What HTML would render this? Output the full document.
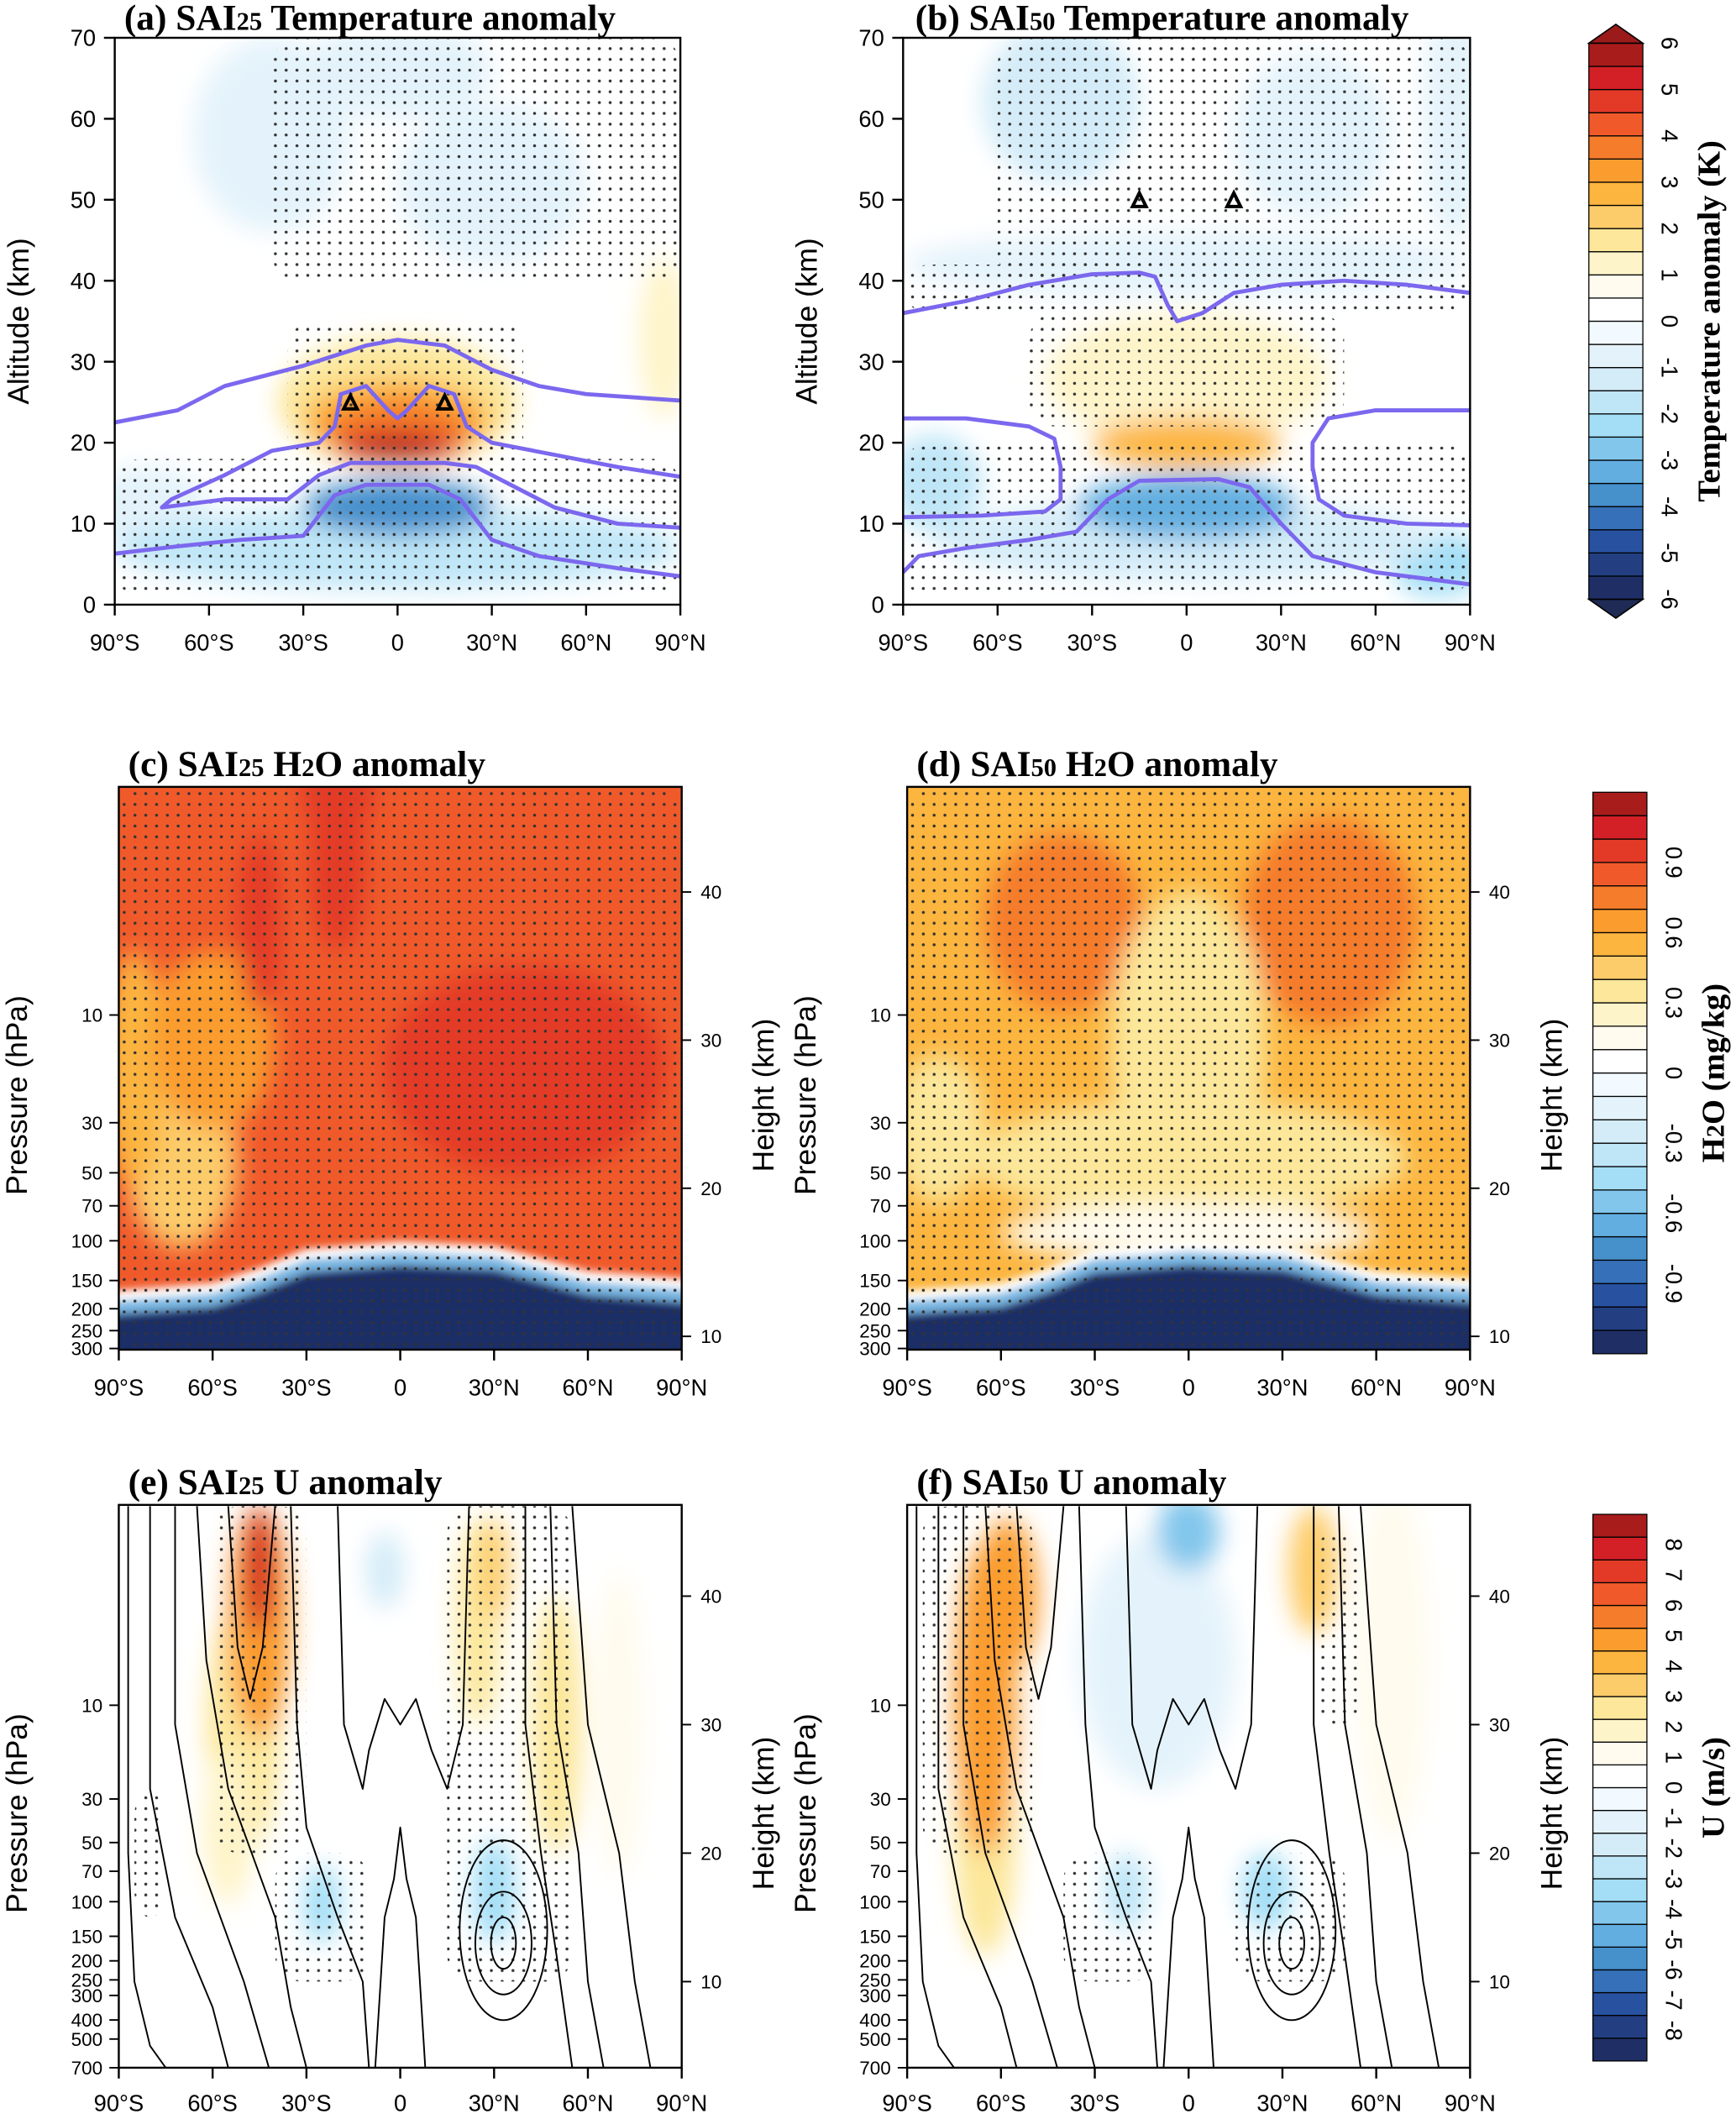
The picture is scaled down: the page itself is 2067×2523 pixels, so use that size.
<!DOCTYPE html>
<html><head><meta charset="utf-8"><style>
html,body{margin:0;padding:0;background:#fff}
svg{display:block}
text{font-family:"Liberation Sans",sans-serif;fill:#000}
.ttl{font-family:"Liberation Serif",serif;font-weight:bold;font-size:27px}
.tk{font-size:17px}
.at{font-size:22px}
</style></head><body>
<svg id="fig" xmlns="http://www.w3.org/2000/svg" width="2067" height="2523" viewBox="0 0 1286 1570" preserveAspectRatio="none">
<defs>
<pattern id="dots" width="8" height="8" patternUnits="userSpaceOnUse"><circle cx="4" cy="4" r="1.1" fill="#333"/></pattern>
<filter id="bl" x="-50%" y="-50%" width="200%" height="200%"><feGaussianBlur stdDeviation="9"/></filter>
<filter id="bl2" x="-50%" y="-50%" width="200%" height="200%"><feGaussianBlur stdDeviation="3"/></filter>
</defs>
</svg>
<script>
// ---- palette (24 classes, bottom to top) ----
const palette=["#1f2f66","#233f82","#2852a0","#3570b8","#4690cc","#62aee0","#82c6ec","#a3def6","#bfe6f7","#d4ecf8","#e4f3fb","#f3faff","#ffffff","#fffbee","#fef4c9","#fce79a","#fdcc6a","#fcb53f","#fb9c2e","#f57c2b","#f05a2b","#e33a28","#d32027","#a91c1c"];
function colorOf(v,max){let i=Math.floor((v+max)/(2*max)*24);i=Math.max(0,Math.min(23,i));return palette[i];}

// ---- data: panel (a) temperature anomaly blobs [lat, alt, rLat, rAlt, K] ----
const aBlobs=[[-40,58,25,12,-0.8],[0,66,30,6,-0.7],[30,52,30,10,-0.8],[85,33,8,10,1.2],[-80,12,20,5,-1],[0,7,90,5,-1.6],
 [0,25,38,8,1.5],[0,23,30,5,2.6],[0,21.5,24,4,3.7],[0,19.5,20,2,5.2],[0,19,12,1.2,5.8],[0,12,30,3.5,-3.8]];
const aStip=[[-40,90,40,70],[-35,40,17,35],[-90,90,1,18]];
const aLines=[
 [[-90,22.5],[-70,24],[-55,27],[-30,29.5],[-10,32],[0,32.7],[15,32],[30,29],[45,27],[60,26],[90,25.2]],
 [[90,9.5],[70,10],[50,12],[35,15],[25,17],[15,17.5],[-15,17.5],[-25,16],[-35,13],[-55,13],[-75,12],[-72,13],[-55,16],[-40,19],[-25,20],[-20,22],[-18,26],[-10,27],[-3,24],[0,23],[3,24],[10,27],[18,26],[22,22],[30,20],[50,18.5],[70,17],[90,15.8]],
 [[-90,6.3],[-70,7.2],[-50,8],[-30,8.5],[-27,10],[-20,13.5],[-10,14.8],[10,14.8],[20,13],[30,8],[45,6],[70,4.5],[90,3.5]]];
const aTri=[[-15,25],[15,25]];
// ---- panel (b) ----
const bBlobs=[[-40,62,25,10,-1.3],[40,58,25,10,-1],[0,42,90,4,-1],[85,60,10,15,-0.6],[-80,15,15,6,-1.6],[80,5,15,4,-2.2],[0,8,80,5,-1.5],
 [0,28,45,8,1.3],[0,20,30,3,2.7],[0,12,35,4,-3.2]];
const bStip=[[-60,90,40,70],[-90,90,36,42],[-50,50,22,36],[-90,90,1,20]];
const bLines=[
 [[-90,36],[-70,37.5],[-50,39.5],[-30,40.8],[-15,41],[-10,40.5],[-6,37],[-3,35],[5,36],[15,38.5],[30,39.5],[50,40],[70,39.5],[90,38.5]],
 [[-90,23],[-70,23],[-50,22],[-42,20.5],[-40,17],[-40,13],[-45,11.5],[-65,11],[-90,10.8]],
 [[90,24],[60,24],[45,23],[40,20],[40,17],[42,13],[50,11],[70,10],[90,9.8]],
 [[-90,4],[-85,6],[-70,7],[-50,8],[-35,9],[-25,13],[-15,15.3],[10,15.5],[20,14.5],[30,10],[40,6],[60,4],[90,2.5]]];
const bTri=[[-15,50],[15,50]];
// ---- panel (c),(d) H2O anomaly ----
const cBack=0.72;
const cBlobs=[[-70,22,18,6,0.35],[-85,28,10,8,0.45],[-60,30,20,6,0.6],[40,28,45,7,0.82],[-45,38,7,6,0.85],[-20,42,9,6,0.85],[-20,47,12,3,0.85]];
const dBack=0.52;
const dBlobs=[[-40,38,25,6,0.62],[45,38,28,7,0.62],[0,30,25,10,0.32],[0,22,70,4,0.3],[-80,24,15,5,0.3],[0,17,60,2,0.15]];
const tropLat=[-90,-60,-45,-30,0,30,60,90];
const tropZ=[11.5,12,13,14.3,14.8,14.5,12.8,12.3];
// ---- panel (e),(f) U anomaly ----
const eBlobs=[[-50,30,12,10,2.5],[-55,22,8,6,1.5],[-45,38,10,9,4.5],[-45,42,5,5,7],[-5,42,6,3,-2],[-25,16,6,3,-3],[30,17,7,4,-3],[25,38,7,8,2],[50,30,8,10,2.2],[70,30,8,12,1.3],[30,42,5,4,3.2]];
const fBlobs=[[-65,22,10,10,2],[-65,32,10,12,4.5],[-58,40,10,6,4],[-10,35,25,10,-1.3],[0,45,10,3,-4],[25,17,8,3,-3],[-20,17,7,3,-2.2],[40,42,8,5,3],[65,35,12,14,1.2]];
const eStip=[[-60,-30,20,47],[-40,-10,10,20],[15,55,10,47],[-85,-75,15,25]];
const fStip=[[-85,-50,20,47],[-40,-10,10,20],[15,50,10,20],[40,55,30,45]];
const uLines=[
 [[-87,47],[-87,20],[-85,10],[-80,5],[-75,3.3]],
 [[-80,47],[-80,25],[-72,15],[-60,8],[-55,3.3]],
 [[-72,47],[-72,30],[-65,20],[-50,10],[-42,3.3]],
 [[-65,47],[-62,35],[-55,25],[-40,15],[-35,8],[-30,3.3]],
 [[-55,47],[-52,36],[-48,32],[-44,36],[-40,47]],
 [[-35,47],[-33,30],[-30,22],[-20,15],[-12,10],[-10,3.3]],
 [[-20,47],[-18,30],[-12,25],[-10,28],[-5,32],[0,30],[5,32],[10,28],[15,25],[20,30],[22,47]],
 [[-8,3.3],[-5,15],[-2,18],[0,22],[2,18],[5,15],[8,3.3]],
 [[40,47],[40,30],[45,20],[50,12],[55,3.3]],
 [[48,47],[50,30],[57,20],[60,10],[65,3.3]],
 [[55,47],[60,30],[70,20],[75,10],[80,3.3]]];
const uRings=[[33,13,4,2],[33,13,9,4],[33,14,14,7]];
// ---- tick labels ----
const latTicks=[-90,-60,-30,0,30,60,90];
const latLabels=["90°S","60°S","30°S","0","30°N","60°N","90°N"];
const altTicks=[0,10,20,30,40,50,60,70];
const presTicksC=[10,30,50,70,100,150,200,250,300];
const presTicksE=[10,30,50,70,100,150,200,250,300,400,500,700];
const hTicks=[10,20,30,40];
const cbT=["6","5","4","3","2","1","0","-1","-2","-3","-4","-5","-6"];
const cbH=["0.9","0.6","0.3","0","-0.3","-0.6","-0.9"];
const cbU=["8","7","6","5","4","3","2","1","0","-1","-2","-3","-4","-5","-6","-7","-8"];

const NS="http://www.w3.org/2000/svg";
const svg=document.getElementById('fig');
function mk(tag,attrs,parent){const e=document.createElementNS(NS,tag);for(const k in attrs)e.setAttribute(k,attrs[k]);(parent||svg).appendChild(e);return e;}
let clipN=0;
function panel(P){
 const g=mk('g',{});
 
 
 const xs=lat=>P.x0+(lat+90)/180*(P.x1-P.x0);
 const ys=z=>P.y1-(z-P.zmin)/(P.zmax-P.zmin)*(P.y1-P.y0);
 const id='cp'+(clipN++);
 const cp=mk('clipPath',{id:id},g);mk('rect',{x:P.x0,y:P.y0,width:P.x1-P.x0,height:P.y1-P.y0},cp);
 const inner=mk('g',{'clip-path':'url(#'+id+')'},g);
 mk('rect',{x:P.x0,y:P.y0,width:P.x1-P.x0,height:P.y1-P.y0,fill:P.back!==undefined?colorOf(P.back,P.max):'#fff'},inner);
 const fg=mk('g',{filter:'url(#bl)'},inner);
 P.blobs.forEach(b=>{
  const el=mk('ellipse',{cx:xs(b[0]),cy:ys(b[1]),rx:b[2]/180*(P.x1-P.x0),ry:b[3]/(P.zmax-P.zmin)*(P.y1-P.y0),fill:colorOf(b[4],P.max)},fg);
  
  
 });
 if(P.trop){
  const g2=mk('g',{filter:'url(#bl2)'},inner);
  let pts=tropLat.map((l,i)=>xs(l)+','+ys(tropZ[i]+1.6)).join(' ');
  mk('polygon',{points:(P.x0-20)+','+(P.y1+20)+' '+(P.x0-20)+','+ys(tropZ[0]+1.6)+' '+pts+' '+(P.x1+20)+','+ys(tropZ[7]+1.6)+' '+(P.x1+20)+','+(P.y1+20),fill:'#ffffff'},g2);
  pts=tropLat.map((l,i)=>xs(l)+','+ys(tropZ[i]+0.9)).join(' ');
  mk('polygon',{points:(P.x0-20)+','+(P.y1+20)+' '+(P.x0-20)+','+ys(tropZ[0]+0.9)+' '+pts+' '+(P.x1+20)+','+ys(tropZ[7]+0.9)+' '+(P.x1+20)+','+(P.y1+20),fill:'#7ab8e3'},g2);
  pts=tropLat.map((l,i)=>xs(l)+','+ys(tropZ[i])).join(' ');
  const nv=mk('polygon',{points:(P.x0-20)+','+(P.y1+20)+' '+(P.x0-20)+','+ys(tropZ[0])+' '+pts+' '+(P.x1+20)+','+ys(tropZ[7])+' '+(P.x1+20)+','+(P.y1+20),fill:'#1f2f66'},g2);
  
  
 }
 (P.stip||[]).forEach(s=>{
  const el=mk('rect',{x:xs(s[0]),y:ys(s[3]),width:xs(s[1])-xs(s[0]),height:ys(s[2])-ys(s[3]),rx:20,fill:'url(#dots)'},inner);
  
  
 });
 (P.lines||[]).forEach(L=>{
  const el=mk('polyline',{points:L.map(p=>xs(p[0])+','+ys(p[1])).join(' '),fill:'none',stroke:P.lc,'stroke-width':P.lw,'stroke-linejoin':'round'},inner);
  
  
 });
 (P.rings||[]).forEach(r=>{
  const el=mk('ellipse',{cx:xs(r[0]),cy:ys(r[1]),rx:r[2]/180*(P.x1-P.x0),ry:r[3]/(P.zmax-P.zmin)*(P.y1-P.y0),fill:'none',stroke:P.lc,'stroke-width':P.lw},inner);
  
  
 });
 (P.tri||[]).forEach(t=>{
  const x=xs(t[0]),y=ys(t[1]);
  const el=mk('polygon',{points:(x-5)+','+(y+5)+' '+(x+5)+','+(y+5)+' '+x+','+(y-5),fill:'none',stroke:'#000','stroke-width':2.5},inner);
  
  
 });
 mk('rect',{x:P.x0,y:P.y0,width:P.x1-P.x0,height:P.y1-P.y0,fill:'none',stroke:'#000','stroke-width':1.5},g);
 latTicks.forEach((l,i)=>{
  mk('line',{x1:xs(l),x2:xs(l),y1:P.y1,y2:P.y1+8,stroke:'#000','stroke-width':1.5},g);
  const t=mk('text',{x:xs(l),y:P.y1+(P.xly||34),'text-anchor':'middle',class:'tk'},g);t.textContent=latLabels[i];
  
  
 });
 if(P.alt){
  altTicks.forEach(a=>{
   mk('line',{x1:P.x0-8,x2:P.x0,y1:ys(a),y2:ys(a),stroke:'#000','stroke-width':1.5},g);
   const t=mk('text',{x:P.x0-14,y:ys(a)+6,'text-anchor':'end',class:'tk'},g);t.textContent=a;
   
   
  });
  const t=mk('text',{transform:'translate('+(P.x0-64)+','+((P.y0+P.y1)/2)+') rotate(-90)','text-anchor':'middle',class:'at'},g);t.textContent='Altitude (km)';
  
  
 } else {
  const pz=p=>P.z0+P.H*Math.log(1000/p);
  P.pt.forEach(p=>{
   mk('line',{x1:P.x0-7,x2:P.x0,y1:ys(pz(p)),y2:ys(pz(p)),stroke:'#000','stroke-width':1.2},g);
   const t=mk('text',{x:P.x0-12,y:ys(pz(p))+5,'text-anchor':'end',style:'font-size:14px'},g);t.textContent=p;
   
   
  });
  hTicks.forEach(h=>{
   mk('line',{x1:P.x1,x2:P.x1+7,y1:ys(h),y2:ys(h),stroke:'#000','stroke-width':1.2},g);
   const t=mk('text',{x:P.x1+14,y:ys(h)+5,style:'font-size:14px'},g);t.textContent=h;
   
   
  });
  let t=mk('text',{transform:'translate('+(P.x0-68)+','+((P.y0+P.y1)/2+20)+') rotate(-90)','text-anchor':'middle',class:'at'},g);t.textContent='Pressure (hPa)';
  
  
  t=mk('text',{transform:'translate('+(P.x1+68)+','+((P.y0+P.y1)/2+20)+') rotate(-90)','text-anchor':'middle',class:'at'},g);t.textContent='Height (km)';
  
  
 }
 const tt=mk('text',{x:P.tx,y:P.y0-(P.ty||8),class:'ttl'},g);
 tt.innerHTML=P.title;
 
 
}
const sub=s=>'<tspan style="font-size:19px">'+s+'</tspan>';
panel({name:'panel-a',x0:85,x1:504,y0:28,y1:448,zmin:0,zmax:70,max:6,blobs:aBlobs,stip:aStip,lines:aLines,lc:'#7b68ee',lw:3,tri:aTri,alt:true,tx:92,ty:6,title:'(a) SAI'+sub('25')+' Temperature anomaly'});
panel({name:'panel-b',x0:669,x1:1089,y0:28,y1:448,zmin:0,zmax:70,max:6,blobs:bBlobs,stip:bStip,lines:bLines,lc:'#7b68ee',lw:3,tri:bTri,alt:true,tx:678,ty:6,title:'(b) SAI'+sub('50')+' Temperature anomaly'});
panel({name:'panel-c',x0:88,x1:505,y0:583,y1:1000,zmin:9.1,zmax:47.1,max:1.05,back:cBack,blobs:cBlobs,trop:true,stip:[[-90,90,9,47]],pt:presTicksC,z0:1.21,H:6.62,tx:95,xly:34,title:'(c) SAI'+sub('25')+' H'+sub('2')+'O anomaly'});
panel({name:'panel-d',x0:672,x1:1089,y0:583,y1:1000,zmin:9.1,zmax:47.1,max:1.05,back:dBack,blobs:dBlobs,trop:true,stip:[[-90,90,9,47]],pt:presTicksC,z0:1.21,H:6.62,tx:679,xly:34,title:'(d) SAI'+sub('50')+' H'+sub('2')+'O anomaly'});
panel({name:'panel-e',x0:88,x1:505,y0:1115,y1:1532,zmin:3.3,zmax:47.1,max:8,blobs:eBlobs,stip:eStip,lines:uLines,rings:uRings,lc:'#000',lw:1.2,pt:presTicksE,z0:0.93,H:6.64,tx:95,xly:32,title:'(e) SAI'+sub('25')+' U anomaly'});
panel({name:'panel-f',x0:672,x1:1089,y0:1115,y1:1532,zmin:3.3,zmax:47.1,max:8,blobs:fBlobs,stip:fStip,lines:uLines,rings:uRings,lc:'#000',lw:1.2,pt:presTicksE,z0:0.93,H:6.64,tx:679,xly:32,title:'(f) SAI'+sub('50')+' U anomaly'});

function colorbar(name,x,y0,y1,labels,title,tri){
 const g=mk('g',{});
 
 
 const w=40,h=(y1-y0)/24;
 for(let i=0;i<24;i++){
  const r=mk('rect',{x:x,y:y1-(i+1)*h,width:w,height:h,fill:palette[i],stroke:'#000','stroke-width':0.8},g);
  
  
 }
 if(tri){
  mk('polygon',{points:x+','+y0+' '+(x+w)+','+y0+' '+(x+w/2)+','+(y0-14),fill:'#9b1a1a',stroke:'#000'},g);
  mk('polygon',{points:x+','+y1+' '+(x+w)+','+y1+' '+(x+w/2)+','+(y1+14),fill:'#1f2a55',stroke:'#000'},g);
 }
 const n=labels.length;
 labels.forEach((l,i)=>{
  const yy=tri? y0+i*(y1-y0)/(n-1) : y0+(i+1)*(y1-y0)/(n+1);
  const t=mk('text',{transform:'translate('+(x+w+14)+','+yy+') rotate(90)','text-anchor':'middle',class:'tk'},g);t.textContent=l;
  
  
 });
 const t=mk('text',{transform:'translate('+(x+w+57)+','+((y0+y1)/2)+') rotate(-90)','text-anchor':'middle',class:'ttl',style:'font-size:24px'},g);t.innerHTML=title;
 
 
}
colorbar('colorbar-temperature',1177,32,444,cbT,'Temperature anomaly (K)',true);
colorbar('colorbar-h2o',1180,587,1003,cbH,'H'+sub('2')+'O (mg/kg)',false);
colorbar('colorbar-u',1180,1122,1527,cbU,'U (m/s)',false);
</script>
</body></html>
